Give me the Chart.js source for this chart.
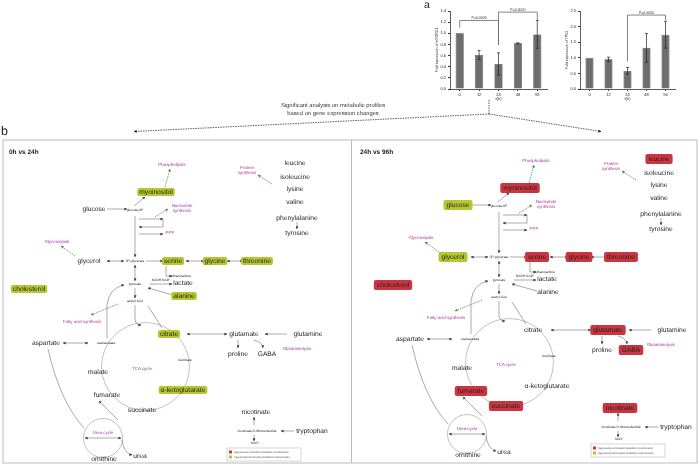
<!DOCTYPE html>
<html>
<head>
<meta charset="utf-8">
<script src="https://cdn.jsdelivr.net/npm/chart.js@4"></script>
<style>
html, body { margin: 0; padding: 0; background: #fff; }
#wrap { position: relative; width: 700px; height: 473px; overflow: hidden; background: #fff; font-family: "Liberation Sans", Arial, sans-serif; }
#diag { position: absolute; left: 0; top: 0; will-change: transform; -webkit-font-smoothing: antialiased; text-rendering: geometricPrecision; }
canvas { position: absolute; top: 0; }
</style>
</head>
<body>
<div id="wrap">
  <svg id="diag" width="700" height="473" font-family="Liberation Sans, Arial, sans-serif"></svg>
  <canvas id="c1" width="125" height="104" style="left:425px"></canvas>
  <canvas id="c2" width="125" height="104" style="left:555px"></canvas>
</div>
<script>
// === bar chart data (panel a) ===
const hours = ['0', '12', '24', '48', '96'];
const mtorc1Mean = [1.0, 0.61, 0.45, 0.82, 0.98];
const mtorc1Err = [0, 0.08, 0.2, 0.01, 0.25];
const tp53Mean = [1.0, 0.95, 0.58, 1.32, 1.74];
const tp53Err = [0, 0.07, 0.11, 0.46, 0.43];
const mtorc1Ticks = [0, 0.2, 0.4, 0.6, 0.8, 1.0, 1.2, 1.4];
const tp53Ticks = [0, 0.5, 1.0, 1.5, 2.0, 2.5];
// significance brackets: bar index from/to, bracket level, leg ends (value units)
const mtorc1Sig = [
  { from: 0, to: 2, level: 1.23, legFrom: 1.1, legTo: 0.79, text: 'P=0.0000' },
  { from: 2, to: 4, level: 1.38, legFrom: 0.79, legTo: 1.24, text: 'P=0.0000' }
];
const tp53Sig = [
  { from: 2, to: 4, level: 2.37, legFrom: 0.88, legTo: 2.21, text: 'P=0.0000' }
];

Chart.defaults.font.family = '"Liberation Sans", Arial, sans-serif';

// error bars + brackets drawn through the chart scales
const annot = {
  id: 'annot',
  afterDatasetsDraw(chart, args, opts) {
    const { ctx, scales: { x, y } } = chart;
    const means = chart.data.datasets[0].data;
    ctx.save();
    ctx.strokeStyle = '#222';
    ctx.lineWidth = 0.7;
    opts.err.forEach((e, i) => {
      if (!e) return;
      const px = x.getPixelForValue(i);
      const lo = y.getPixelForValue(means[i] - e), hi = y.getPixelForValue(means[i] + e);
      ctx.beginPath();
      ctx.moveTo(px, lo); ctx.lineTo(px, hi);
      ctx.moveTo(px - 1.5, lo); ctx.lineTo(px + 1.5, lo);
      ctx.moveTo(px - 1.5, hi); ctx.lineTo(px + 1.5, hi);
      ctx.stroke();
    });
    ctx.strokeStyle = '#666';
    ctx.lineWidth = 0.8;
    ctx.fillStyle = '#333';
    ctx.font = '3.5px "Liberation Sans", Arial';
    ctx.textAlign = 'center';
    opts.sig.forEach(b => {
      const x1 = x.getPixelForValue(b.from), x2 = x.getPixelForValue(b.to);
      const yl = y.getPixelForValue(b.level);
      ctx.beginPath();
      ctx.moveTo(x1, y.getPixelForValue(b.legFrom));
      ctx.lineTo(x1, yl); ctx.lineTo(x2, yl);
      ctx.lineTo(x2, y.getPixelForValue(b.legTo));
      ctx.stroke();
      ctx.fillText(b.text, (x1 + x2) / 2, yl - 1.5);
    });
    ctx.restore();
  }
};

function barChart(id, means, errs, sig, ticks, yTitle, padRight) {
  const step = ticks[1] - ticks[0];
  return new Chart(document.getElementById(id), {
    type: 'bar',
    data: {
      labels: hours,
      datasets: [{
        data: means,
        backgroundColor: '#6e6e6e',
        borderColor: '#3c3c3c',
        borderWidth: 0.6,
        barPercentage: 0.42,
        categoryPercentage: 1
      }]
    },
    options: {
      responsive: false,
      animation: false,
      layout: { padding: { top: 11, right: padRight, left: 0, bottom: 0 } },
      plugins: { legend: { display: false }, tooltip: { enabled: false }, annot: { err: errs, sig: sig } },
      scales: {
        x: {
          grid: { drawOnChartArea: false, tickLength: 2, color: '#333', offset: false },
          border: { color: '#333', width: 0.8 },
          ticks: { font: { size: 4 }, color: '#222', padding: 1, maxRotation: 0 },
          title: { display: true, text: 't(h)', font: { size: 4 }, color: '#222', padding: { top: 0, bottom: 3 } },
          afterFit: s => { s.height = 15; }
        },
        y: {
          min: ticks[0], max: ticks[ticks.length - 1],
          grid: { drawOnChartArea: false, tickLength: 2, color: '#333' },
          border: { color: '#333', width: 0.8 },
          ticks: { stepSize: step, font: { size: 4 }, color: '#222', padding: 2, callback: v => v.toFixed(1) },
          title: { display: true, text: yTitle, font: { size: 3.5 }, color: '#222', padding: { top: 10, bottom: 0 } },
          afterFit: s => { s.width = 25; }
        }
      }
    },
    plugins: [annot]
  });
}

barChart('c1', mtorc1Mean, mtorc1Err, mtorc1Sig, mtorc1Ticks, 'Fold expression of mTORC1', 3);
barChart('c2', tp53Mean, tp53Err, tp53Sig, tp53Ticks, 'Fold expression of TP53', 5);

// === pathway diagram (panel b) ===
const NS = 'http://www.w3.org/2000/svg';
const svg = document.getElementById('diag');
function el(tag, attrs, parent) {
  const e = document.createElementNS(NS, tag);
  for (const k in attrs) e.setAttribute(k, attrs[k]);
  (parent || svg).appendChild(e);
  return e;
}
function txt(parent, x, y, s, size, o = {}) {
  const t = el('text', { x, y, 'font-size': size, 'text-anchor': o.anchor || 'middle', 'dominant-baseline': 'central',
    fill: o.fill || '#222', 'font-weight': o.weight || 'normal' }, parent);
  t.textContent = s;
  return t;
}

const defs = el('defs', {});
[['ah', '#444'], ['ahg', '#3a9a3a'], ['ahk', '#222']].forEach(([id, c]) => {
  const m = el('marker', { id, viewBox: '0 0 10 10', refX: 9, refY: 5, markerWidth: 3, markerHeight: 3,
    markerUnits: 'userSpaceOnUse', orient: 'auto-start-reverse' }, defs);
  el('path', { d: 'M0,0 L10,5 L0,10 z', fill: c }, m);
});

// top annotations
txt(svg, 424, 4.5, 'a', 10.5, { anchor: 'start' });
txt(svg, 1, 131, 'b', 12.5, { anchor: 'start' });
txt(svg, 333, 106, 'Significant analysis on metabolic profiles', 5.8, { fill: '#333' });
txt(svg, 333, 113.5, 'based on gene expression changes', 5.8, { fill: '#333' });
el('path', { d: 'M489,100 V114', stroke: '#333', 'stroke-width': 0.8, 'stroke-dasharray': '1.5,1', fill: 'none' });
el('path', { d: 'M489,114 L134,131.5', stroke: '#333', 'stroke-width': 0.8, 'stroke-dasharray': '1.5,1', fill: 'none', 'marker-end': 'url(#ahk)' });
el('path', { d: 'M489,114 L601,131.5', stroke: '#333', 'stroke-width': 0.8, 'stroke-dasharray': '1.5,1', fill: 'none', 'marker-end': 'url(#ahk)' });

// panel frame
el('rect', { x: 3, y: 140, width: 694, height: 323, fill: 'none', stroke: '#bbb', 'stroke-width': 1 });
el('line', { x1: 351.5, y1: 140, x2: 351.5, y2: 463, stroke: '#bbb', 'stroke-width': 1 });
txt(svg, 9, 152, '0h vs 24h', 6.5, { anchor: 'start', weight: 'bold' });
txt(svg, 360, 152, '24h vs 96h', 6.5, { anchor: 'start', weight: 'bold' });

const mets = [
  ['leucine', 295, 163], ['isoleucine', 295, 177], ['lysine', 295, 189], ['valine', 295, 202],
  ['phenylalanine', 297, 218], ['tyrosine', 297, 233],
  ['myoinositol', 156, 192], ['glucose', 94, 209], ['glycerol', 89, 261], ['serine', 173, 261],
  ['glycine', 215, 261], ['threonine', 257, 261], ['lactate', 183, 283], ['alanine', 184, 296],
  ['cholesterol', 29, 289], ['citrate', 169, 334], ['glutamate', 244, 334], ['glutamine', 308, 334],
  ['aspartate', 46, 343], ['proline', 238, 354], ['GABA', 267, 354], ['malate', 98, 372],
  ['α-ketoglutarate', 183, 390], ['fumarate', 107, 395], ['succinate', 142, 410],
  ['nicotinate', 256, 412], ['tryptophan', 312, 431], ['ornithine', 104, 459], ['urea', 140, 456]
];
const tiny = [
  ['glucose-6P', 135, 210], ['3P-glycerate', 135, 261], ['ethanolamine', 181, 276], ['pyruvate', 135, 284],
  ['acetyl-CoA', 135, 301], ['oxaloacetate', 106, 343], ['isocitrate', 185, 360],
  ['nicotinate D-ribonucleotide', 257, 431], ['NAD⁺', 255, 443], ['NADH  NAD⁺', 161, 280]
];
const purple = [
  ['Phospholipids', 172, 164], ['Nucleotide', 182, 205], ['synthesis', 182, 210], ['PPP', 170, 232],
  ['Glycerolipids', 57, 241], ['Protein', 247, 167], ['synthesis', 247, 172], ['Fatty acid synthesis', 82, 321],
  ['TCA cycle', 142, 368], ['Glutaminolysis', 297, 348], ['Urea cycle', 103, 432]
];
// [path, marker style, dashed green]
const links = [
  ['M107,209 L127,209', 'e'], ['M134,206 L145,197', 'e'], ['M165,187 L170,169', 'e', 1], ['M155,217 L168,209', 'e', 1],
  ['M135,216 L135,257', 'e'], ['M139,219 L163,219', 'e'], ['M163,219 L163,227', ''], ['M163,227 L139,227', 'e'],
  ['M139,234 L163,234', 'e'], ['M75,256 L61,246', 'e', 1], ['M107,261 L124,261', 'b'], ['M146,261 L163,261', 'e'],
  ['M186,261 L204,261', 'b'], ['M227,261 L243,261', 'b'], ['M166,266 V276 H172', 'e'], ['M135,265 L135,281', 'b'],
  ['M150,284 L172,284', 'e'], ['M173,295 L148,288', 'e'], ['M135,288 L135,298', 'e'], ['M118,304 L91,315', 'e', 1],
  ['M135,305 L135,320 Q136,325 141,325', 'e'], ['M148,306 L162,328', ''], ['M107,338 L107,305 Q109,288 124,285', 'e'],
  ['M63,343 L88,343', 'b'], ['M187,334 L227,334', 'b'], ['M287,334 L265,334', 'e'], ['M238,340 L238,348', 'e'],
  ['M254,340 Q262,342 263,348', 'e'], ['M48,349 Q60,402 84,428', ''], ['M118,420 L99,401', 'e'],
  ['M85,438 L121,438', 'b'], ['M122,440 Q124,453 132,455', 'e'], ['M254,425 L254,417', 'e'],
  ['M294,431 L281,431', 'e'], ['M254,435 L254,441', 'e'], ['M272,184 L258,175', 'e', 1], ['M297,222 L297,229', 'e']
];
const G = '#b6c731', R = '#cb3541';
const leftHi = { myoinositol: G, serine: G, glycine: G, threonine: G, cholesterol: G, alanine: G, citrate: G, 'α-ketoglutarate': G };
const rightHi = { leucine: R, myoinositol: R, glucose: G, glycerol: G, serine: R, glycine: R, threonine: R, cholesterol: R,
  glutamate: R, GABA: R, fumarate: R, succinate: R, nicotinate: R };

function drawPanel(dx, dy, hi, boxH, padX) {
  const g = el('g', { transform: `translate(${dx},${dy})` });
  el('circle', { cx: 145.5, cy: 366.5, r: 44, fill: 'none', stroke: '#999', 'stroke-width': 0.6 }, g);
  el('circle', { cx: 103, cy: 438, r: 19.5, fill: 'none', stroke: '#999', 'stroke-width': 0.6 }, g);
  links.forEach(([d, m, green]) => {
    const a = { d, fill: 'none', stroke: green ? '#3a9a3a' : '#555', 'stroke-width': green ? 0.8 : 0.5 };
    if (green) a['stroke-dasharray'] = '1.5,1';
    const mk = green ? 'url(#ahg)' : 'url(#ah)';
    if (m === 'e' || m === 'b') a['marker-end'] = mk;
    if (m === 'b') a['marker-start'] = mk;
    el('path', a, g);
  });
  mets.forEach(([s, x, y]) => {
    const t = txt(g, x, y, s, 6.7);
    if (hi[s]) {
      const w = t.getComputedTextLength() + padX * 2;
      const r = el('rect', { x: x - w / 2, y: y - boxH / 2, width: w, height: boxH, rx: 2, fill: hi[s] }, g);
      g.insertBefore(r, t);
    }
  });
  tiny.forEach(([s, x, y]) => txt(g, x, y, s, 3.3));
  purple.forEach(([s, x, y]) => txt(g, x, y, s, 4.4, { fill: '#a2349f' }));
  // legend
  el('rect', { x: 227, y: 448, width: 74, height: 13, fill: '#fff', stroke: '#bbb', 'stroke-width': 0.6 }, g);
  el('rect', { x: 229, y: 450.5, width: 3, height: 3, fill: R }, g);
  el('rect', { x: 229, y: 455.5, width: 3, height: 3, fill: G }, g);
  txt(g, 234, 452, 'Significantly increased metabolite concentration', 2.6, { anchor: 'start', fill: '#444' });
  txt(g, 234, 457, 'Significantly decreased metabolite concentration', 2.6, { anchor: 'start', fill: '#444' });
}
drawPanel(0, 0, leftHi, 8, 2);
drawPanel(364, -4, rightHi, 10, 3);
</script>
</body>
</html>
